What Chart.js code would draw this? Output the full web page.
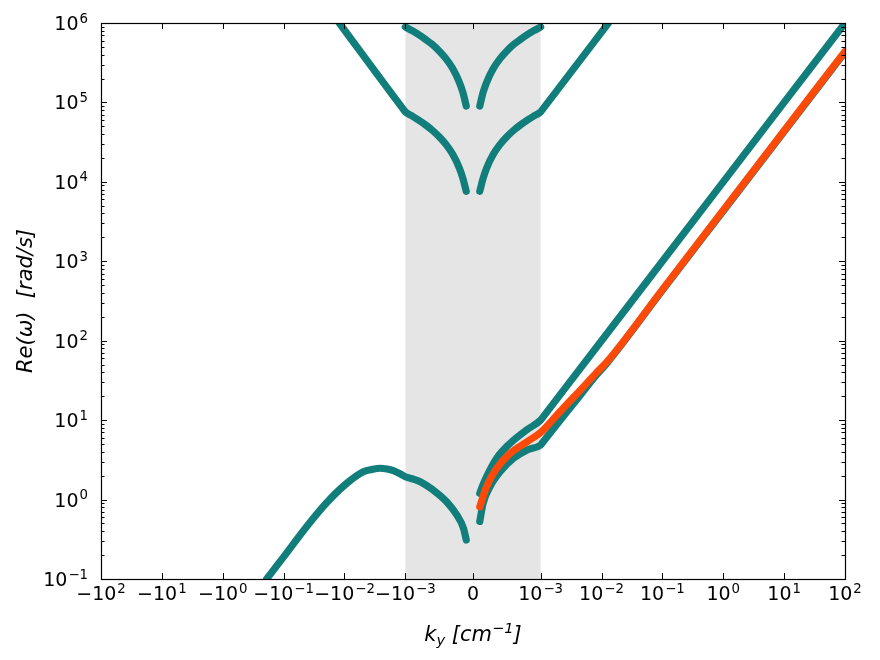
<!DOCTYPE html>
<html>
<head>
<meta charset="utf-8">
<title>Re(ω) vs k_y</title>
<script src="https://cdn.jsdelivr.net/npm/chart.js@4.4.0/dist/chart.umd.min.js"></script>
<style>
  html, body { margin:0; padding:0; background:#fff; }
  #wrap { width:880px; height:660px; }
</style>
</head>
<body>
<div id="wrap"><canvas id="chart-disp" width="880" height="660"></canvas></div>
<script>
/* ── symlog x axis (linthresh 1e-3, linscale 1, base 10) ── */
var LINTHRESH = 1e-3;
var LINSCALE = 1 / (1 - 1 / 10);

var X_MIN = -1e2, X_MAX = 1e2;
var X_TICKS = [-1e2, -1e1, -1e0, -1e-1, -1e-2, -1e-3, 0, 1e-3, 1e-2, 1e-1, 1e0, 1e1, 1e2];
var X_TICK_BASE = ['−10', '−10', '−10', '−10', '−10', '−10', '0', '10', '10', '10', '10', '10', '10'];
var X_TICK_EXP = ['2', '1', '0', '−1', '−2', '−3', '', '−3', '−2', '−1', '0', '1', '2'];

var Y_MIN = 1e-1, Y_MAX = 1e6;
var Y_TICKS = [1e-1, 1e0, 1e1, 1e2, 1e3, 1e4, 1e5, 1e6];
var Y_TICK_BASE = ['10', '10', '10', '10', '10', '10', '10', '10'];
var Y_TICK_EXP = ['−1', '0', '1', '2', '3', '4', '5', '6'];

// shaded band (linear part of the axis)
var SPAN = [-1e-3, 1e-3];

/* ── branches: k [cm^-1], Re(omega) [rad/s] ── */
// left side, upper inner curve
var K_UP_L = [-1e-3, -9e-4, -8e-4, -7e-4, -6e-4, -5e-4, -4e-4, -3e-4, -2e-4, -1.5e-4, -1e-4];
var W_UP_L = [8.9e5, 8.0e5, 7.1e5, 6.2e5, 5.35e5, 4.45e5, 3.56e5, 2.67e5, 1.78e5, 1.34e5, 9.0e4];
// left side, straight line from the top edge + lower inner curve
var K_LO_L = [-1.22e-2, -1.1e-3, -1e-3, -9e-4, -8e-4, -7e-4, -6e-4, -5e-4, -4e-4, -3e-4, -2e-4, -1.5e-4, -1e-4];
var W_LO_L = [1e6, 8.35e4, 7.6e4, 6.75e4, 5.95e4, 5.2e4, 4.45e4, 3.7e4, 2.96e4, 2.22e4, 1.48e4, 1.11e4, 7.6e3];
// right side, upper inner curve
var K_UP_R = [1e-4, 1.5e-4, 2e-4, 3e-4, 4e-4, 5e-4, 6e-4, 7e-4, 8e-4, 9e-4, 1e-3];
var W_UP_R = [9.0e4, 1.34e5, 1.78e5, 2.67e5, 3.56e5, 4.45e5, 5.35e5, 6.2e5, 7.1e5, 8.0e5, 8.9e5];
// right side, lower inner curve + straight line to the top edge
var K_LO_R = [1e-4, 1.5e-4, 2e-4, 3e-4, 4e-4, 5e-4, 6e-4, 7e-4, 8e-4, 9e-4, 1e-3, 1.1e-3, 1.3e-2];
var W_LO_R = [7.6e3, 1.11e4, 1.48e4, 2.22e4, 2.96e4, 3.7e4, 4.45e4, 5.2e4, 5.95e4, 6.75e4, 7.6e4, 8.35e4, 1e6];
// slow branch, negative k
var K_SLOW = [-0.19, -0.1, -0.042, -0.02, -9.2e-3, -4.9e-3, -3.5e-3, -2.6e-3, -2e-3, -1.58e-3, -1.2e-3, -1e-3, -9e-4, -7.8e-4, -5.9e-4, -3.9e-4, -2.4e-4, -1.4e-4, -1e-4];
var W_SLOW = [0.1, 0.19, 0.456, 0.9, 1.6, 2.24, 2.4, 2.48, 2.42, 2.31, 2.1, 1.94, 1.83, 1.68, 1.32, 0.94, 0.64, 0.435, 0.31];
// positive k, upper teal
var K_TUP = [1e-4, 1.5e-4, 2e-4, 3.5e-4, 5.5e-4, 8e-4, 1e-3, 1.1e-3, 1e-2, 1e-1, 1e0, 1e1, 1e2];
var W_TUP = [1.2, 1.55, 1.94, 3.31, 5.12, 7.6, 10, 11, 100, 1e3, 1e4, 1e5, 1e6];
// positive k, lower teal
var K_TLO = [1e-4, 1.5e-4, 2.5e-4, 4e-4, 6e-4, 8e-4, 1e-3, 1.1e-3, 4e-3, 8e-3, 1.2e-2, 1e-1, 1e0, 1e1, 1e2];
var W_TLO = [0.53, 0.9, 1.45, 2.24, 3.31, 4.21, 4.87, 5.35, 18.5, 36, 51, 430, 4.3e3, 4.3e4, 4.3e5];
// positive k, orange
var K_ORG = [1e-4, 2e-4, 3.5e-4, 5.5e-4, 8e-4, 1e-3, 2e-3, 4.4e-3, 8e-3, 1.3e-2, 1e-1, 1e0, 1e1, 1e2];
var W_ORG = [0.81, 1.45, 2.48, 3.83, 5.36, 7.0, 12.4, 23.5, 38.5, 57, 440, 4.4e3, 4.4e4, 4.4e5];

var TEAL = '#127e7c';
var ORANGE = '#fd4a08';
var FONT = "'DejaVu Sans', sans-serif";
var TICK_SIZE = 19, EXP_SIZE = 13.3, LABEL_SIZE = 21;

function symlog(v) {
  var a = Math.abs(v);
  if (a <= LINTHRESH) return v / LINTHRESH * LINSCALE;
  return Math.sign(v) * (LINSCALE + Math.log10(a / LINTHRESH));
}
function symexp(t) {
  var a = Math.abs(t);
  if (a <= LINSCALE) return t / LINSCALE * LINTHRESH;
  return Math.sign(t) * LINTHRESH * Math.pow(10, a - LINSCALE);
}

class SymlogScale extends Chart.Scale {
  determineDataLimits() {
    var mm = this.getMinMax(false);
    this.min = this.options.min !== undefined ? this.options.min : mm.min;
    this.max = this.options.max !== undefined ? this.options.max : mm.max;
  }
  buildTicks() {
    return X_TICKS.map(function(v) { return { value: v }; });
  }
  configure() {
    super.configure();
    this._t0 = symlog(this.min);
    this._t1 = symlog(this.max);
  }
  getLabelForValue(v) { return String(v); }
  getPixelForValue(v) {
    return this.getPixelForDecimal((symlog(v) - this._t0) / (this._t1 - this._t0));
  }
  getValueForPixel(p) {
    return symexp(this._t0 + this.getDecimalForPixel(p) * (this._t1 - this._t0));
  }
}
SymlogScale.id = 'symlog';
SymlogScale.defaults = {};
Chart.register(SymlogScale);

function pts(ks, ws) {
  return ks.map(function(k, i) { return { x: k, y: ws[i] }; });
}
function branch(ks, ws, color) {
  return {
    data: pts(ks, ws), showLine: true, borderColor: color, backgroundColor: color,
    borderWidth: 7.2, pointRadius: 0, borderCapStyle: 'round', borderJoinStyle: 'round',
    cubicInterpolationMode: 'monotone', clip: 0
  };
}
function isPow10(v) {
  var e = Math.log10(v);
  return Math.abs(e - Math.round(e)) < 1e-6;
}
function isIntMantissa(v) {
  var m = v / Math.pow(10, Math.floor(Math.log10(v) + 1e-9));
  return Math.abs(m - Math.round(m)) < 1e-6;
}
function findTick(list, v) {
  for (var i = 0; i < list.length; i++) {
    if (Math.abs(v - list[i]) <= Math.abs(list[i]) * 1e-6) return i;
  }
  return -1;
}

// "10" + raised exponent, like mathtext
function powerLabel(ctx, base, exp, x, y, align) {
  ctx.font = TICK_SIZE + 'px ' + FONT;
  var wb = ctx.measureText(base).width;
  ctx.font = EXP_SIZE + 'px ' + FONT;
  var we = exp ? ctx.measureText(exp).width + 1 : 0;
  var x0 = align === 'right' ? x - wb - we : x - (wb + we) / 2;
  ctx.font = TICK_SIZE + 'px ' + FONT;
  ctx.fillText(base, x0, y);
  if (exp) {
    ctx.font = EXP_SIZE + 'px ' + FONT;
    ctx.fillText(exp, x0 + wb + 1, y - 7.5);
  }
}

/* ── band, frame, inward ticks, tick labels, axis titles ── */
var axesPlugin = {
  id: 'mplAxes',
  beforeDatasetsDraw: function(chart) {
    var a = chart.chartArea, ctx = chart.ctx, xs = chart.scales.x;
    var x0 = xs.getPixelForValue(SPAN[0]), x1 = xs.getPixelForValue(SPAN[1]);
    ctx.save();
    ctx.fillStyle = '#e5e5e5';
    ctx.fillRect(x0, a.top, x1 - x0, a.bottom - a.top);
    ctx.restore();
  },
  afterDatasetsDraw: function(chart) {
    var a = chart.chartArea, ctx = chart.ctx, xs = chart.scales.x, ys = chart.scales.y;
    ctx.save();
    ctx.strokeStyle = '#000';
    ctx.lineWidth = 1;
    ctx.beginPath();
    xs.ticks.forEach(function(t) {
      var px = Math.round(xs.getPixelForValue(t.value)) + 0.5;
      ctx.moveTo(px, a.bottom); ctx.lineTo(px, a.bottom - 6);
      ctx.moveTo(px, a.top); ctx.lineTo(px, a.top + 6);
    });
    ys.ticks.forEach(function(t) {
      if (!isIntMantissa(t.value)) return;
      var len = isPow10(t.value) ? 6 : 3.5;
      var py = Math.round(ys.getPixelForValue(t.value)) + 0.5;
      ctx.moveTo(a.left, py); ctx.lineTo(a.left + len, py);
      ctx.moveTo(a.right, py); ctx.lineTo(a.right - len, py);
    });
    ctx.stroke();
    ctx.lineWidth = 1.2;
    ctx.strokeRect(Math.round(a.left) + 0.5, Math.round(a.top) + 0.5, Math.round(a.right - a.left), Math.round(a.bottom - a.top));

    // tick labels
    ctx.fillStyle = '#000';
    ctx.textAlign = 'left';
    ctx.textBaseline = 'alphabetic';
    xs.ticks.forEach(function(t) {
      var i = findTick(X_TICKS, t.value);
      if (i < 0) return;
      powerLabel(ctx, X_TICK_BASE[i], X_TICK_EXP[i], xs.getPixelForValue(t.value), a.bottom + 21, 'center');
    });
    ys.ticks.forEach(function(t) {
      var i = findTick(Y_TICKS, t.value);
      if (i < 0) return;
      powerLabel(ctx, Y_TICK_BASE[i], Y_TICK_EXP[i], a.left - 13, ys.getPixelForValue(t.value) + 7, 'right');
    });
    ctx.restore();
  },
  afterDraw: function(chart) {
    var a = chart.chartArea, ctx = chart.ctx;
    ctx.save();
    ctx.fillStyle = '#000';
    // y title
    ctx.translate(27, (a.top + a.bottom) / 2);
    ctx.rotate(-Math.PI / 2);
    ctx.font = 'italic ' + LABEL_SIZE + 'px ' + FONT;
    ctx.textAlign = 'center';
    ctx.textBaseline = 'middle';
    ctx.fillText('Re(ω)  [rad/s]', 0, 0);
    ctx.restore();
    // x title: k_y [cm^-1]
    var runs = [
      { t: 'k', size: LABEL_SIZE, dy: 0 },
      { t: 'y', size: 14.7, dy: 4 },
      { t: ' [cm', size: LABEL_SIZE, dy: 0 },
      { t: '−1', size: 14.7, dy: -8 },
      { t: ']', size: LABEL_SIZE, dy: 0 }
    ];
    ctx.save();
    ctx.fillStyle = '#000';
    ctx.textAlign = 'left';
    ctx.textBaseline = 'alphabetic';
    var total = 0;
    runs.forEach(function(r) { ctx.font = 'italic ' + r.size + 'px ' + FONT; r.w = ctx.measureText(r.t).width; total += r.w; });
    var x = (a.left + a.right) / 2 - total / 2, base = 641;
    runs.forEach(function(r) { ctx.font = 'italic ' + r.size + 'px ' + FONT; ctx.fillText(r.t, x, base + r.dy); x += r.w; });
    ctx.restore();
  }
};

var ctxEl = document.getElementById('chart-disp');
new Chart(ctxEl.getContext('2d'), {
  type: 'scatter',
  data: {
    datasets: [
      branch(K_ORG, W_ORG, ORANGE),
      branch(K_TUP, W_TUP, TEAL),
      branch(K_TLO, W_TLO, TEAL),
      branch(K_SLOW, W_SLOW, TEAL),
      branch(K_UP_L, W_UP_L, TEAL),
      branch(K_LO_L, W_LO_L, TEAL),
      branch(K_UP_R, W_UP_R, TEAL),
      branch(K_LO_R, W_LO_R, TEAL)
    ]
  },
  options: {
    responsive: false,
    animation: false,
    devicePixelRatio: 1,
    layout: { padding: { left: 0, right: 35, top: 23, bottom: 0 } },
    plugins: { legend: { display: false }, tooltip: { enabled: false } },
    scales: {
      x: {
        type: 'symlog', min: X_MIN, max: X_MAX,
        grid: { display: false, drawTicks: false }, border: { display: false },
        ticks: { display: false },
        afterFit: function(s) { s.height = 81; }
      },
      y: {
        type: 'logarithmic', min: Y_MIN, max: Y_MAX,
        grid: { display: false, drawTicks: false }, border: { display: false },
        ticks: { display: false },
        afterFit: function(s) { s.width = 101; }
      }
    }
  },
  plugins: [axesPlugin]
});
</script>
</body>
</html>
